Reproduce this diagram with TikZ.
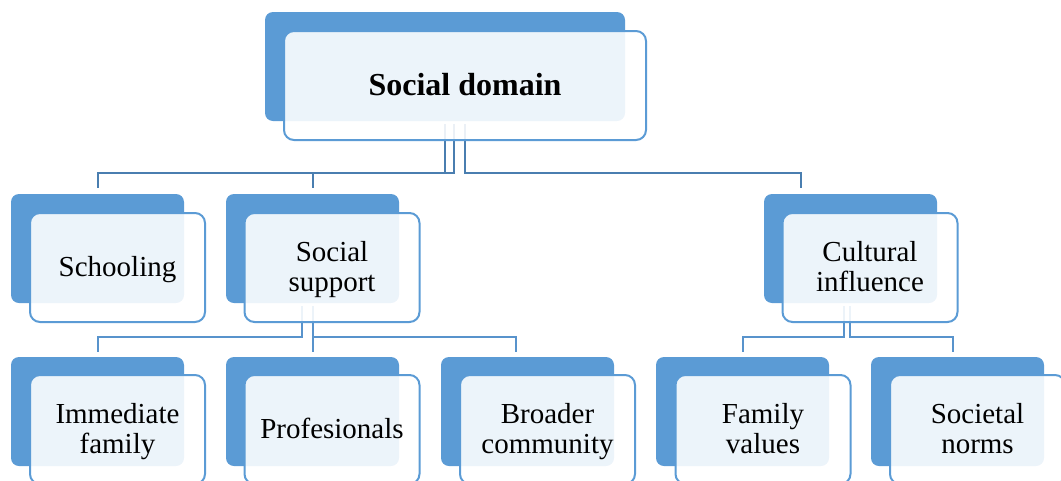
\documentclass[tikz,border=0pt]{standalone}
\usepackage{fontspec}
\setmainfont{Liberation Serif}
\definecolor{sdblue}{HTML}{5B9BD5}
\definecolor{conntop}{HTML}{4A7EB0}
\definecolor{connlow}{HTML}{5893CC}
\newcommand\hstr{\rule{0pt}{24pt}}
\newcommand\dstr{\rule[-7pt]{0pt}{7pt}}
\newcommand\hstrb{\rule{0pt}{26pt}}
\tikzset{
  backbox/.style={fill=sdblue, rounded corners=8pt, minimum width=173pt, minimum height=109pt, inner sep=0pt},
  frontbox/.style={draw=sdblue, line width=2pt, fill=white, fill opacity=0.89, text opacity=1,
    rounded corners=10pt, minimum width=175pt, minimum height=109pt, inner sep=0pt, align=center,
    font=\fontsize{29}{30}\selectfont},
  conna/.style={draw=conntop, line width=2pt},
  connb/.style={draw=connlow, line width=2pt},
}
\begin{document}
\begin{tikzpicture}[x=1pt,y=-1pt]
\useasboundingbox (0,0) rectangle (1061,480);
\clip (0,0) rectangle (1061,480);
% back boxes
\node[backbox, minimum width=360pt] (topb) at (445,66.5) {};
\node[backbox] (schb) at (97.5,248.5) {};
\node[backbox] (supb) at (312.5,248.5) {};
\node[backbox] (culb) at (850.5,248.5) {};
\node[backbox] (imb) at (97.5,411.5) {};
\node[backbox] (prob) at (312.5,411.5) {};
\node[backbox] (brob) at (527.5,411.5) {};
\node[backbox] (famb) at (742.5,411.5) {};
\node[backbox] (socb) at (957.5,411.5) {};
% connectors
\draw[conna] ([shift={(0,3)}]topb.south) -- ++(0,49) -| ([shift={(0,-6)}]schb.north);
\draw[conna] ([shift={(8.5,3)}]topb.south) -- ++(0,49) -| ([shift={(0,-6)}]supb.north);
\draw[conna] ([shift={(20,3)}]topb.south) -- ++(0,49) -| ([shift={(-49.5,-6)}]culb.north);
\draw[connb] ([shift={(-10.5,3)}]supb.south) -- ++(0,31) -| ([shift={(0,-5)}]imb.north);
\draw[connb] ([shift={(0,3)}]supb.south) -- ([shift={(0,-5)}]prob.north);
\draw[connb] ([shift={(0,3)}]supb.south) -- ++(0,31) -| ([shift={(-11.5,-5)}]brob.north);
\draw[connb] ([shift={(-6.5,3)}]culb.south) -- ++(0,31) -| ([shift={(0,-5)}]famb.north);
\draw[connb] ([shift={(-0.5,3)}]culb.south) -- ++(0,31) -| ([shift={(-5,-5)}]socb.north);
% front boxes
\node[frontbox, minimum width=362pt, font=\bfseries\fontsize{32}{34}\selectfont] (top) at (465,85.5) {\hstrb Social domain\dstr};
\node[frontbox] (sch) at (117.5,267.5) {\hstr Schooling\dstr};
\node[frontbox] (sup) at (332,267.5) {\hstr Social\\support\dstr};
\node[frontbox] (cul) at (870,267.5) {\hstr Cultural\\influence\dstr};
\node[frontbox] (im) at (117.5,429.5) {\hstr Immediate\\family\dstr};
\node[frontbox] (pro) at (332,429.5) {\hstr Profesionals\dstr};
\node[frontbox] (bro) at (547.5,429.5) {\hstr Broader\\community\dstr};
\node[frontbox] (fam) at (763,429.5) {\hstr Family\\values\dstr};
\node[frontbox] (soc) at (977.5,429.5) {\hstr Societal\\norms\dstr};
\end{tikzpicture}
\end{document}
